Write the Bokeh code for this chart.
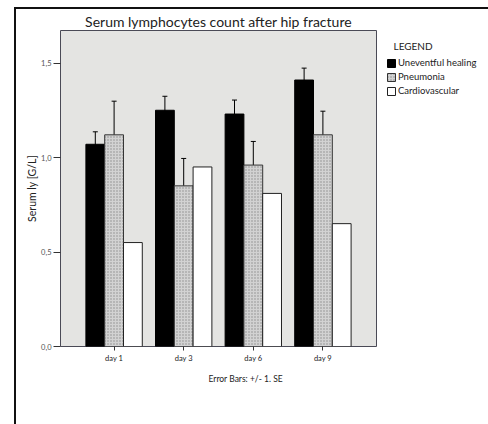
from bokeh.plotting import figure
from bokeh.models import (ColumnDataSource, FactorRange, Range1d, FixedTicker,
                          CustomJSTickFormatter, Whisker, TeeHead, Legend,
                          LegendItem, Title)
from bokeh.transform import dodge
from bokeh.embed import file_html
from bokeh.resources import INLINE

days = ["day 1", "day 3", "day 6", "day 9"]
uneventful = [1.07, 1.25, 1.23, 1.41]
uneventful_se = [0.066, 0.074, 0.074, 0.063]
pneumonia = [1.12, 0.85, 0.96, 1.12]
pneumonia_se = [0.178, 0.145, 0.125, 0.125]
cardiovascular = [0.55, 0.95, 0.81, 0.65]
y_ticks = [0.0, 0.5, 1.0, 1.5]

src = ColumnDataSource(dict(
    day=days,
    u=uneventful,
    u_up=[v + e for v, e in zip(uneventful, uneventful_se)],
    u_lo=[v - e for v, e in zip(uneventful, uneventful_se)],
    p=pneumonia,
    p_up=[v + e for v, e in zip(pneumonia, pneumonia_se)],
    p_lo=[v - e for v, e in zip(pneumonia, pneumonia_se)],
    c=cardiovascular,
))

FONT = "Lato"
W = 0.27

p = figure(frame_width=316, frame_height=316, output_backend="svg", toolbar_location=None,
           x_range=FactorRange(*days, range_padding=0.27, range_padding_units="absolute"),
           y_range=Range1d(0, 1.672),
           min_border_left=44, min_border_right=100, min_border_top=21,
           min_border_bottom=78)
# the whole chart sits in a dark frame
p.margin = (9, 0, 0, 16)
p.styles = {"outline": "2px solid #111111"}

p.title.text = "Serum lymphocytes count after hip fracture"
p.title.align = "center"
p.title.text_font = FONT
p.title.text_font_size = "14px"
p.title.text_font_style = "normal"
p.title.text_color = "#222222"
p.title.standoff = 2

p.background_fill_color = "#e4e4e2"
p.border_fill_color = "white"
p.outline_line_color = "#4a4a56"
p.outline_line_width = 1
p.xgrid.grid_line_color = None
p.ygrid.grid_line_color = None

r_u = p.vbar(x=dodge("day", -W, range=p.x_range), top="u", width=W, source=src,
             fill_color="black", line_color="black", line_width=1)
r_p = p.vbar(x=dodge("day", 0, range=p.x_range), top="p", width=W, source=src,
             fill_color="#d2d2d2", hatch_pattern="dot", hatch_color="#8c8c8c",
             hatch_scale=3, hatch_weight=1, line_color="#333333", line_width=1)
r_c = p.vbar(x=dodge("day", W, range=p.x_range), top="c", width=W, source=src,
             fill_color="white", line_color="#222222", line_width=1)

for base, up, lo in [(-W, "u_up", "u_lo"), (0, "p_up", "p_lo")]:
    wk = Whisker(base=dodge("day", base, range=p.x_range), upper=up, lower=lo,
                 source=src, line_color="black", line_width=1,
                 upper_head=TeeHead(size=5, line_color="black", line_width=1),
                 lower_head=TeeHead(size=5, line_color="black", line_width=1))
    p.add_layout(wk)

# y axis
p.yaxis.ticker = FixedTicker(ticks=y_ticks)
p.yaxis.formatter = CustomJSTickFormatter(code="return tick.toFixed(1).replace('.', ',');")
p.yaxis.axis_label = "Serum ly [G/L]"
p.yaxis.axis_label_text_font = FONT
p.yaxis.axis_label_text_font_size = "10.5px"
p.yaxis.axis_label_text_font_style = "normal"
p.yaxis.axis_label_text_color = "#222222"
p.yaxis.axis_label_standoff = 0
p.yaxis.major_label_text_font = FONT
p.yaxis.major_label_text_font_size = "7.5px"
p.yaxis.major_label_text_color = "#555555"
p.yaxis.major_label_standoff = 2
p.yaxis.major_tick_out = 7
p.yaxis.major_tick_in = 0
p.yaxis.minor_tick_out = 0
p.yaxis.minor_tick_in = 0
p.yaxis.axis_line_color = None
p.yaxis.major_tick_line_color = "#333333"

# x axis
p.xaxis.major_label_text_font = FONT
p.xaxis.major_label_text_font_size = "7.5px"
p.xaxis.major_label_text_color = "#222222"
p.xaxis.major_label_standoff = 3
p.xaxis.major_tick_out = 4
p.xaxis.major_tick_in = 0
p.xaxis.axis_line_color = None
p.xaxis.major_tick_line_color = "#333333"

note = Title(text="Error Bars: +/- 1. SE", align="left", offset=148,
             text_font=FONT, text_font_size="8.5px", text_font_style="normal",
             text_color="#222222", standoff=12)
p.add_layout(note, "below")

legend = Legend(items=[LegendItem(label="Uneventful healing", renderers=[r_u]),
                       LegendItem(label="Pneumonia", renderers=[r_p]),
                       LegendItem(label="Cardiovascular", renderers=[r_c])],
                title="\u2003LEGEND", location="top_left")
legend.title_text_font = FONT
legend.title_text_font_size = "10px"
legend.title_text_font_style = "normal"
legend.title_text_color = "#222222"
legend.title_text_line_height = 1.0
legend.title_standoff = 5
legend.label_text_font = FONT
legend.label_text_font_size = "9.5px"
legend.label_text_color = "#222222"
legend.label_text_line_height = 1.0
legend.label_standoff = 2
legend.glyph_width = 10
legend.glyph_height = 10
legend.label_height = 10
legend.spacing = 3
legend.margin = 10
legend.padding = 0
legend.border_line_color = None
legend.background_fill_alpha = 0
p.add_layout(legend, "right")

open("out.html", "w").write(file_html(p, INLINE))
